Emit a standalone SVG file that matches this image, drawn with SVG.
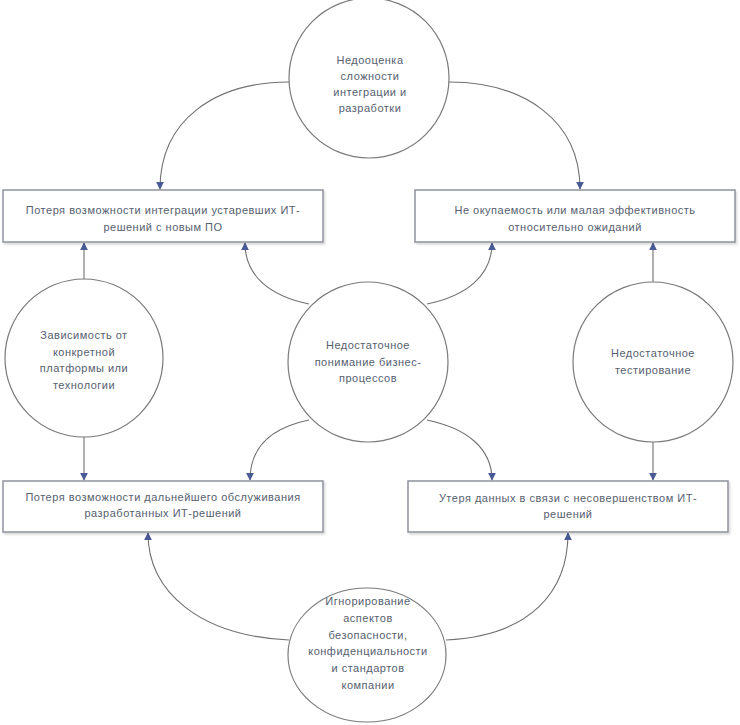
<svg xmlns="http://www.w3.org/2000/svg" width="740" height="725" viewBox="0 0 740 725">
<defs>
<marker id="arr" viewBox="0 0 10 10" refX="9" refY="5" markerWidth="8" markerHeight="8" markerUnits="userSpaceOnUse" orient="auto">
<path d="M0,0 L10,5 L0,10 Z" fill="#4a5a95"/>
</marker>
<filter id="sh" x="-5%" y="-20%" width="110%" height="150%">
<feDropShadow dx="1.5" dy="2" stdDeviation="1" flood-color="#000" flood-opacity="0.15"/>
</filter>
</defs>
<style>
.box{fill:#fff;stroke:#8e929a;stroke-width:1.5}
.cir{fill:#fff;stroke:#7a7a7a;stroke-width:1.2}
.con{fill:none;stroke:#707070;stroke-width:1.1;marker-end:url(#arr)}
text{font-family:"Liberation Sans",Arial,sans-serif;font-size:11px;fill:#56606f;text-anchor:middle;letter-spacing:0.5px}
</style>
<rect width="740" height="725" fill="#fff"/>
<g id="connectors">
<path class="con" d="M289,82 C215,82 160,120 160,189"/>
<path class="con" d="M449,82 C523,82 580,120 580,189"/>
<path class="con" d="M309,304 C270,296 245,276 245,243"/>
<path class="con" d="M427,304 C466,296 492,276 492,243"/>
<path class="con" d="M309,420 C270,428 250,448 250,480"/>
<path class="con" d="M427,420 C466,428 492,448 492,480"/>
<path class="con" d="M84,280 L84,243"/>
<path class="con" d="M84,437 L84,480"/>
<path class="con" d="M653,282 L653,243"/>
<path class="con" d="M653,442 L653,480"/>
<path class="con" d="M289,640 C200,636 148,592 148,533"/>
<path class="con" d="M446,640 C530,636 568,592 568,533"/>
</g>
<g id="box-tl">
<rect class="box" x="3" y="190" width="320" height="52" filter="url(#sh)"/>
<text x="163" y="214">Потеря возможности интеграции устаревших ИТ-</text>
<text x="163" y="231">решений с новым ПО</text>
</g>
<g id="box-tr">
<rect class="box" x="415" y="190" width="320" height="52" filter="url(#sh)"/>
<text x="575" y="214">Не окупаемость или  малая эффективность</text>
<text x="575" y="231">относительно ожиданий</text>
</g>
<g id="box-bl">
<rect class="box" x="3" y="481" width="320" height="51" filter="url(#sh)"/>
<text x="163" y="501">Потеря возможности дальнейшего обслуживания</text>
<text x="163" y="517">разработанных ИТ-решений</text>
</g>
<g id="box-br">
<rect class="box" x="408" y="481" width="320" height="51" filter="url(#sh)"/>
<text x="568" y="502">Утеря данных в связи с несовершенством ИТ-</text>
<text x="568" y="518">решений</text>
</g>
<g id="c-top">
<circle class="cir" cx="369" cy="78" r="80"/>
<text x="370" y="64">Недооценка</text>
<text x="370" y="80">сложности</text>
<text x="370" y="96">интеграции и</text>
<text x="370" y="112">разработки</text>
</g>
<g id="c-left">
<circle class="cir" cx="84" cy="358" r="79"/>
<text x="84" y="339">Зависимость от</text>
<text x="84" y="356">конкретной</text>
<text x="84" y="372">платформы или</text>
<text x="84" y="389">технологии</text>
</g>
<g id="c-right">
<circle class="cir" cx="653" cy="362" r="80"/>
<text x="653" y="357">Недостаточное</text>
<text x="653" y="374">тестирование</text>
</g>
<g id="c-center">
<circle class="cir" cx="368" cy="362" r="80"/>
<text x="368" y="349">Недостаточное</text>
<text x="368" y="366">понимание бизнес-</text>
<text x="368" y="382">процессов</text>
</g>
<g id="c-bottom">
<ellipse class="cir" cx="367" cy="655" rx="79" ry="67"/>
<text x="368" y="605">Игнорирование</text>
<text x="368" y="622">аспектов</text>
<text x="368" y="639">безопасности,</text>
<text x="368" y="655">конфиденциальности</text>
<text x="368" y="672">и стандартов</text>
<text x="368" y="689">компании</text>
</g>
</svg>
